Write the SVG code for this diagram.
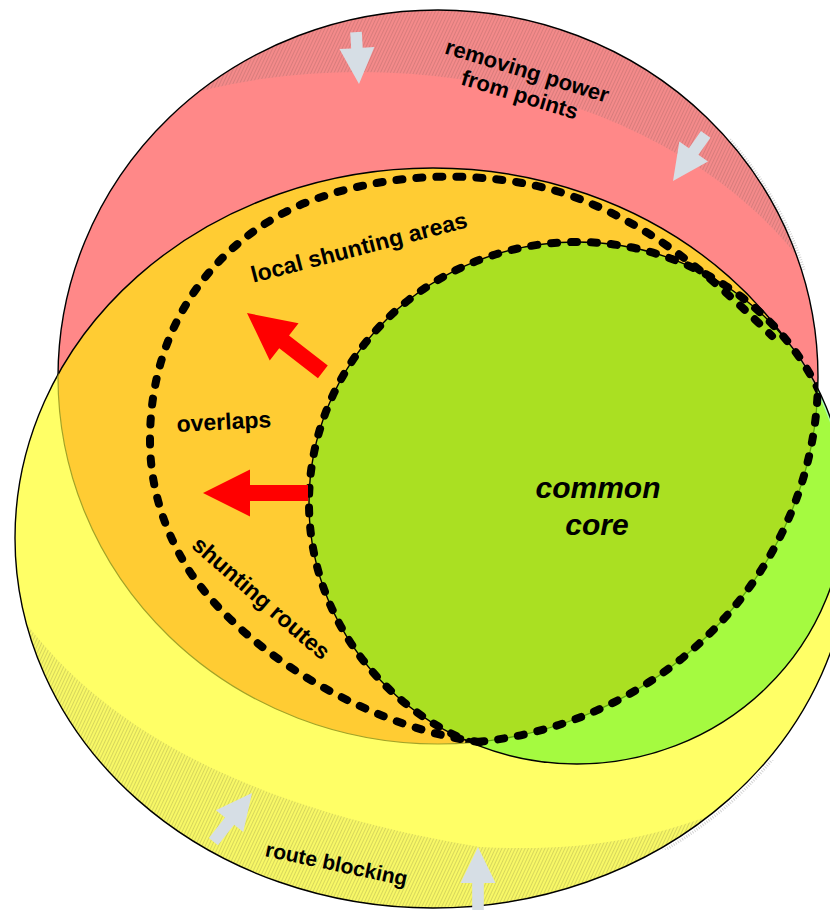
<svg xmlns="http://www.w3.org/2000/svg" width="830" height="910" viewBox="0 0 830 910">
<defs>
  <style>
    .lbl { font-family: "Liberation Sans", Arial, sans-serif; font-weight: bold; fill: #000; }
    .core { font-family: "Liberation Sans", Arial, sans-serif; font-weight: bold; font-style: italic; font-size: 30px; fill: #000; text-anchor: middle; }
    .outline { fill: none; stroke: #000; stroke-width: 1.4; }
    .garrow { fill: #D6DEE5; }
    .rarrow { fill: #FF0000; }
    .shadow { fill: none; stroke: #D4D4D4; stroke-width: 3; stroke-dasharray: 1 1.5; }
  </style>
  <ellipse id="shR" cx="438" cy="377" rx="380" ry="367"/>
  <ellipse id="shY" cx="433" cy="538" rx="418" ry="370"/>
  <ellipse id="shG" cx="577" cy="503" rx="268" ry="261"/>
  <clipPath id="clipR"><use href="#shR"/></clipPath>
  <clipPath id="clipY"><use href="#shY"/></clipPath>
  <clipPath id="clipG"><use href="#shG"/></clipPath>
  <clipPath id="clipShR"><rect x="730" y="100" width="100" height="170"/></clipPath>
  <clipPath id="clipShY"><rect x="600" y="760" width="200" height="90"/></clipPath>
  <pattern id="hatchR" width="3" height="3" patternUnits="userSpaceOnUse" patternTransform="rotate(25)">
    <rect width="3" height="3" fill="#F48A8A"/>
    <rect width="1" height="3" fill="#D87C7C"/>
  </pattern>
  <pattern id="hatchY" width="3" height="3" patternUnits="userSpaceOnUse" patternTransform="rotate(25)">
    <rect width="3" height="3" fill="#F8F866"/>
    <rect width="1" height="3" fill="#D6D65C"/>
  </pattern>
</defs>

<g id="shadows">
  <g clip-path="url(#clipShR)"><use href="#shR" class="shadow" transform="translate(3,1)"/></g>
  <g clip-path="url(#clipShY)"><use href="#shY" class="shadow" transform="translate(2,3)"/></g>
</g>

<g id="removing-power">
  <use href="#shR" fill="#FF8888"/>
  <path clip-path="url(#clipR)" fill="url(#hatchR)" fill-rule="evenodd" d="M0,0 H830 V910 H0 Z M-145,441 A505,369 0 1 0 865,441 A505,369 0 1 0 -145,441 Z"/>
  <use href="#shR" class="outline"/>
</g>

<g id="route-blocking">
  <use href="#shY" fill="#FFFF66"/>
  <path clip-path="url(#clipY)" fill="url(#hatchY)" d="M20,615 C110,740 270,812 480,847 C580,852 650,840 730,808 L830,790 L830,910 L0,910 L0,615 Z"/>
</g>

<g id="local-shunting-areas">
  <g clip-path="url(#clipR)"><use href="#shY" fill="#FFCC33"/></g>
  <use href="#shY" class="outline"/>
  <g clip-path="url(#clipY)"><use href="#shR" fill="none" stroke="#A3A328" stroke-width="1.2"/></g>
</g>

<g id="common-core">
  <use href="#shG" fill="#A8FFB0"/>
  <g clip-path="url(#clipY)"><use href="#shG" fill="#A5FA40"/></g>
  <g clip-path="url(#clipR)"><use href="#shG" fill="#B9C26E"/></g>
  <g clip-path="url(#clipR)"><g clip-path="url(#clipY)"><use href="#shG" fill="#AAE022"/></g></g>
  <g clip-path="url(#clipG)"><use href="#shR" fill="none" stroke="#5FA80E" stroke-width="1.3"/></g>
  <use href="#shG" class="outline"/>
</g>

<g id="connectors" fill="none" stroke="#000" stroke-width="8" stroke-dasharray="6 14" stroke-linecap="round">
  <g clip-path="url(#clipR)"><use href="#shG"/></g>
  <g clip-path="url(#clipG)"><use href="#shR"/></g>
  <path d="M480,742 C380,730 250,660 190,572 C160,525 150,480 150,440 C150,330 210,245 300,205 C380,172 480,168 560,192 C645,220 705,270 772,336"/>
</g>

<g id="arrows-grey">
  <path class="garrow" transform="translate(359,84) rotate(-3.3)" d="M0,0 L-17.5,-36 L-5.8,-36 L-5.8,-52 L5.8,-52 L5.8,-36 L17.5,-36 Z"/>
  <path class="garrow" transform="translate(673,181) rotate(35)" d="M0,0 L-17.5,-36 L-5.8,-36 L-5.8,-57 L5.8,-57 L5.8,-36 L17.5,-36 Z"/>
  <path class="garrow" transform="translate(252,793) rotate(-141.5)" d="M0,0 L-17.5,-36 L-5.8,-36 L-5.8,-62 L5.8,-62 L5.8,-36 L17.5,-36 Z"/>
  <path class="garrow" transform="translate(478,847) rotate(180)" d="M0,0 L-17.5,-36 L-5.8,-36 L-5.8,-64 L5.8,-64 L5.8,-36 L17.5,-36 Z"/>
</g>

<g id="arrows-red">
  <path class="rarrow" transform="translate(247,313) rotate(37.8)" d="M0,0 L47,-23.5 L47,-8 L96,-8 L96,8 L47,8 L47,23.5 Z"/>
  <path class="rarrow" transform="translate(203,493)" d="M0,0 L47,-23.5 L47,-8 L105,-8 L105,8 L47,8 L47,23.5 Z"/>
</g>

<g id="labels">
  <text class="lbl" font-size="22" text-anchor="middle" transform="translate(525,78) rotate(17)"><tspan x="0" y="0">removing power</tspan><tspan x="0" y="25">from points</tspan></text>
  <text class="lbl" font-size="23" text-anchor="middle" transform="translate(361,255) rotate(-14.5)">local shunting areas</text>
  <text class="lbl" font-size="23" transform="translate(177,432) rotate(-3)">overlaps</text>
  <text class="lbl" font-size="23" text-anchor="middle" transform="translate(256,604) rotate(41)">shunting routes</text>
  <text class="lbl" font-size="21" text-anchor="middle" transform="translate(335,871) rotate(12)">route blocking</text>
  <text class="core" x="598" y="498">common</text>
  <text class="core" x="597" y="535">core</text>
</g>
</svg>
